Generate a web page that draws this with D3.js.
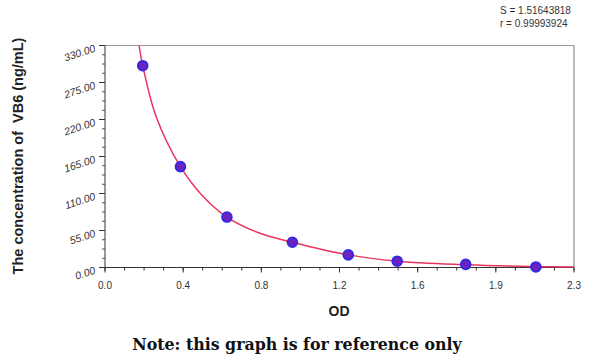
<!DOCTYPE html>
<html><head><meta charset="utf-8">
<script src="https://cdn.jsdelivr.net/npm/d3@7"></script>
<style>body{margin:0;background:#fff}svg{display:block}</style>
</head><body>
<svg id="c" width="600" height="360"></svg>
<script>
// Data
const odValues   = [0.185, 0.370, 0.598, 0.919, 1.193, 1.433, 1.769, 2.113];
const concValues = [300, 150, 75, 37.5, 18.75, 9.375, 4.69, 0.8];
// fitted curve
const curveOD    = [0.167, 0.185, 0.25, 0.370, 0.48, 0.598, 0.75, 0.919, 1.193, 1.433, 1.769, 2.113, 2.3];
const curveConc  = [330, 300, 225, 150, 106, 75, 52, 37.5, 18.75, 9.375, 4.2, 1.3, 0.6];
const xTickLabels = ["0.0", "0.4", "0.8", "1.2", "1.6", "1.9", "2.3"];
const yTickValues = [0, 55, 110, 165, 220, 275, 330];
const statLines = ["S = 1.51643818", "r = 0.99993924"];

const svg = d3.select("#c");
const L = 105, R = 574, T = 45.5, B = 267.5;
const x = d3.scaleLinear().domain([0, 2.3]).range([L, R]);
const y = d3.scaleLinear().domain([0, 330]).range([B, T]);

// frame top/right
svg.append("line").attr("x1", L).attr("x2", R).attr("y1", T).attr("y2", T).attr("stroke", "#999").attr("stroke-width", 1);
svg.append("line").attr("x1", R).attr("x2", R).attr("y1", T).attr("y2", B).attr("stroke", "#777").attr("stroke-width", 1);

// x axis
const xMajor = xTickLabels.map((d, i) => 2.3 * i / (xTickLabels.length - 1));
const xMinor = d3.range(0, 25).map(i => 2.3 * i / 24);
const xa = svg.append("g").attr("transform", `translate(0,${B})`);
xa.append("line").attr("x1", L).attr("x2", R).attr("stroke", "#333");
xa.selectAll(".mn").data(xMinor).join("line").attr("x1", d => x(d)).attr("x2", d => x(d)).attr("y1", 0).attr("y2", 3).attr("stroke", "#333");
xa.selectAll(".mj").data(xMajor).join("line").attr("x1", d => x(d)).attr("x2", d => x(d)).attr("y1", 0).attr("y2", 5).attr("stroke", "#333");
xa.selectAll("text").data(xMajor).join("text").attr("x", d => x(d)).attr("y", 21)
  .attr("text-anchor", "middle").attr("font-family", "Liberation Sans, Arial, sans-serif").attr("font-size", 10).attr("fill", "#333")
  .text((d, i) => xTickLabels[i]);

// y axis
const yMinor = d3.range(0, 25).map(i => 330 * i / 24);
const ya = svg.append("g");
ya.append("line").attr("x1", L).attr("x2", L).attr("y1", T).attr("y2", B).attr("stroke", "#333");
ya.selectAll(".mn").data(yMinor).join("line").attr("x1", L - 3).attr("x2", L).attr("y1", d => y(d)).attr("y2", d => y(d)).attr("stroke", "#555");
ya.selectAll(".mj").data(yTickValues).join("line").attr("x1", L - 6).attr("x2", L).attr("y1", d => y(d)).attr("y2", d => y(d)).attr("stroke", "#333");
ya.selectAll("text").data(yTickValues).join("text")
  .attr("transform", d => `translate(${L - 9},${y(d) + 6}) rotate(-18)`)
  .attr("text-anchor", "end").attr("font-family", "Liberation Sans, Arial, sans-serif").attr("font-size", 10.5).attr("font-style", "italic").attr("fill", "#333")
  .text(d => d.toFixed(2));

// curve
const cdata = curveOD.map((d, i) => [d, curveConc[i]]);
svg.append("path").datum(cdata)
  .attr("d", d3.line().x(d => x(d[0])).y(d => y(d[1])).curve(d3.curveCatmullRom.alpha(0.5)))
  .attr("fill", "none").attr("stroke", "#e8345e").attr("stroke-width", 1.5);

// points
svg.selectAll("circle.p").data(odValues.map((d, i) => [d, concValues[i]])).join("circle")
  .attr("cx", d => x(d[0])).attr("cy", d => y(d[1])).attr("r", 5)
  .attr("fill", "#6a22c0").attr("stroke", "#2a2ae8").attr("stroke-width", 1.6);

// titles
svg.append("text").attr("transform", `translate(23,156) rotate(-90)`).attr("text-anchor", "middle")
  .style("white-space", "pre")
  .attr("font-family", "Liberation Sans, Arial, sans-serif").attr("font-size", 14.5).attr("font-weight", 600).attr("fill", "#222")
  .text("The concentration of  VB6 (ng/mL)");
svg.append("text").attr("x", 339).attr("y", 316).attr("text-anchor", "middle")
  .attr("font-family", "Liberation Sans, Arial, sans-serif").attr("font-size", 14).attr("font-weight", 600).attr("fill", "#222").text("OD");

svg.selectAll("text.st").data(statLines).join("text").attr("x", 500).attr("y", (d, i) => 14 + i * 13)
  .attr("font-family", "Liberation Sans, Arial, sans-serif").attr("font-size", 10).attr("fill", "#333").text(d => d);

svg.append("text").attr("x", 297).attr("y", 350).attr("text-anchor", "middle")
  .attr("font-family", "DejaVu Serif, Liberation Serif, serif").attr("font-weight", "bold").attr("font-size", 15.8).attr("fill", "#111")
  .text("Note: this graph is for reference only");
</script>
</body></html>
